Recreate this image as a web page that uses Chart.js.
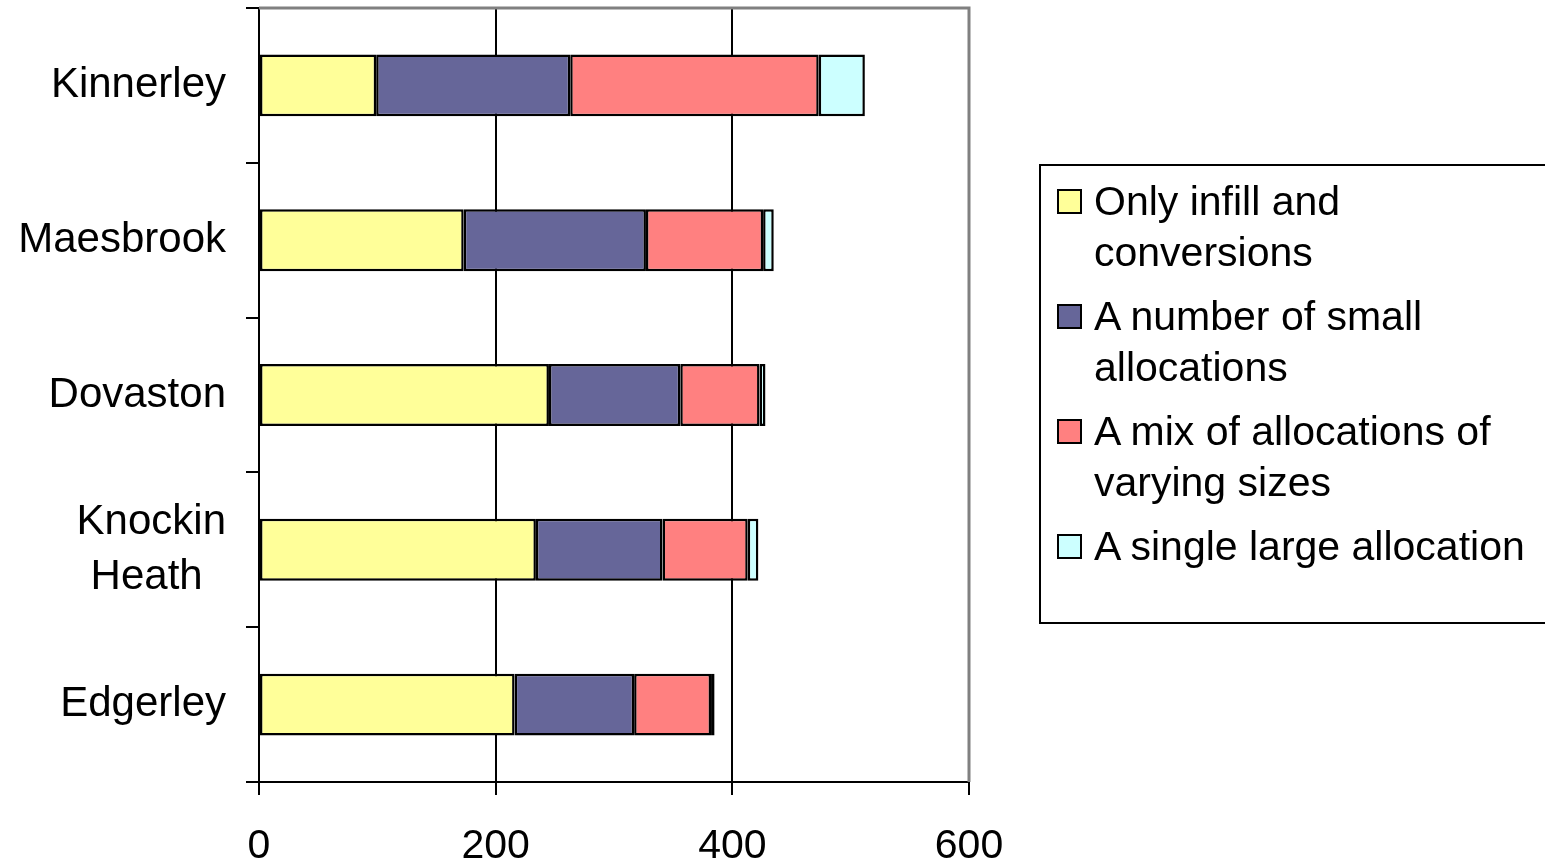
<!DOCTYPE html>
<html><head><meta charset="utf-8">
<script src="https://cdn.jsdelivr.net/npm/chart.js@4/dist/chart.umd.min.js"></script>
<style>
html,body{margin:0;padding:0;background:#fff;overflow:hidden;}
#wrap{position:relative;width:1545px;height:864px;}
canvas{position:absolute;left:0;top:0;}
#legend{position:absolute;left:1039px;top:164px;width:520px;height:456px;border:2px solid #000;box-sizing:content-box;font-family:"Liberation Sans",Arial,sans-serif;font-size:41px;color:#000;}
.item{position:absolute;left:16px;}
.sw{position:absolute;left:0;top:13px;width:21px;height:21px;border:2px solid #000;}
.tx{position:absolute;left:37px;top:0;line-height:51px;white-space:nowrap;}
</style></head><body>
<div id="wrap"><canvas id="c" width="1545" height="864"></canvas><div id="legend"></div></div>
<script>
const categories = ["Kinnerley","Maesbrook","Dovaston",["Knockin","Heath  "],"Edgerley"];
const seriesNames = [["Only infill and","conversions"],["A number of small","allocations"],["A mix of allocations of","varying sizes"],["A single large allocation"]];
const infill = [99, 173, 245, 234, 216];
const small = [164, 154, 111, 107, 101];
const mix = [210, 99, 67, 72, 65];
const large = [39, 9, 5, 9, 3];
const xTicks = [0, 200, 400, 600];
const colors = ["#FFFF99","#666699","#FF8080","#CCFFFF"];
const values = [infill, small, mix, large];

const font = {family:'"Liberation Sans", Arial, sans-serif', size:41};
const frame = {
  id:'frame',
  afterDraw(chart){
    const a = chart.chartArea, ctx = chart.ctx;
    ctx.save();
    ctx.strokeStyle = '#808080'; ctx.lineWidth = 3;
    ctx.beginPath();
    ctx.moveTo(a.left, a.top); ctx.lineTo(a.right, a.top); ctx.lineTo(a.right, a.bottom);
    ctx.stroke();
    ctx.restore();
  }
};
new Chart(document.getElementById('c'), {
  type:'bar',
  data:{
    labels:categories,
    datasets: values.map((v,i)=>({
      label: seriesNames[i].join(' '),
      data: v,
      backgroundColor: colors[i],
      borderColor:'#000',
      borderWidth:2.5,
      borderSkipped:false,
      barPercentage:0.4,
      categoryPercentage:1
    }))
  },
  options:{
    indexAxis:'y',
    responsive:false,
    animation:false,
    layout:{padding:{top:8,right:576,left:0,bottom:0}},
    plugins:{legend:{display:false},tooltip:{enabled:false}},
    scales:{
      x:{
        stacked:true, min:0, max:600,
        afterBuildTicks(s){ s.ticks = xTicks.map(v=>({value:v})); },
        afterFit(s){ s.height = 82; s.paddingLeft = 0; s.paddingRight = 0; },
        grid:{color:'#000', lineWidth:2, tickLength:13, drawOnChartArea:true},
        border:{color:'#000', width:2},
        ticks:{color:'#000', font:font, padding:27, maxRotation:0}
      },
      y:{
        stacked:true,
        afterFit(s){ s.width = 259; s.paddingTop = 0; s.paddingBottom = 0; },
        grid:{drawOnChartArea:false, color:'#000', lineWidth:2, tickLength:13},
        border:{color:'#000', width:2},
        ticks:{color:'#000', font:Object.assign({}, font, {size:42, lineHeight:1.32}), padding:20}
      }
    }
  },
  plugins:[frame]
});
const lg = document.getElementById('legend');
seriesNames.forEach((n,i)=>{
  const it = document.createElement('div');
  it.className='item';
  it.style.top = (10 + i*115) + 'px';
  it.innerHTML = '<div class="sw" style="background:'+colors[i]+'"></div><div class="tx">'+n.join('<br>')+'</div>';
  lg.appendChild(it);
});
</script>
</body></html>
